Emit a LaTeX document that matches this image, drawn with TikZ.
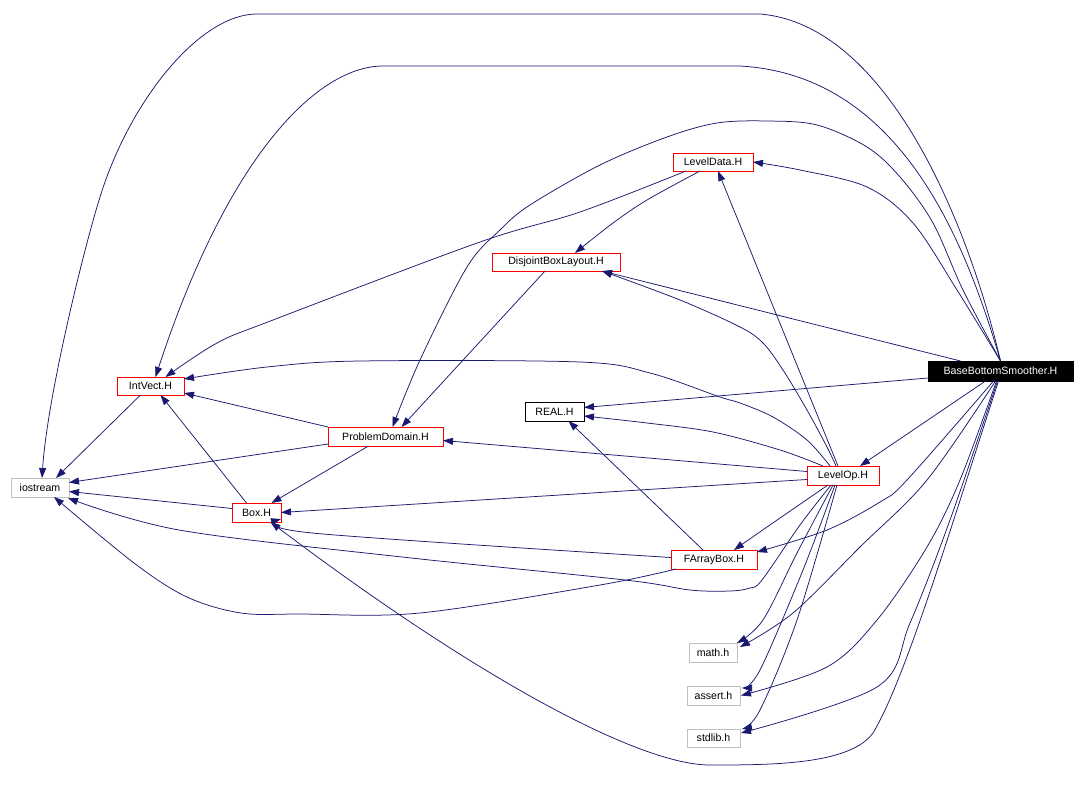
\documentclass[tikz,border=0pt]{standalone}
\usepackage{fontspec}
\setmainfont{Liberation Sans}
\usetikzlibrary{arrows.meta,calc}
\definecolor{edgec}{HTML}{191970}
\definecolor{redb}{HTML}{FF0000}
\definecolor{grayb}{HTML}{BFBFBF}
\begin{document}
\begin{tikzpicture}[x=1pt,y=-1pt,
  hdr/.style={draw, line width=0.9pt, inner sep=0pt, outer sep=0pt, minimum height=19pt,
    font=\fontsize{10.6}{12}\selectfont, text=black, fill=white},
  redhdr/.style={hdr, draw=redb},
  sysh/.style={hdr, draw=grayb},
  plainh/.style={hdr, draw=black},
  mainh/.style={hdr, draw=black, fill=black, text=white},
  edge/.style={draw=edgec, line width=0.75pt, -{Triangle[length=10pt,width=7pt]}},
  sm/.style={smooth, tension=0.55}]
\useasboundingbox (0,0) rectangle (1085,800);
\fill[white] (0,0) rectangle (1085,800);

% nodes
\node[mainh, minimum width=145pt, minimum height=20pt] (bbs) at (1000.5,371) {BaseBottomSmoother.H};
\node[redhdr, minimum width=80pt, minimum height=18pt] (ld) at (713,162) {LevelData.H};
\node[redhdr, minimum width=128pt, minimum height=18pt] (dbl) at (556,262) {DisjointBoxLayout.H};
\node[redhdr, minimum width=67pt, minimum height=18pt] (iv) at (150.5,386) {IntVect.H};
\node[plainh, minimum width=59pt] (real) at (554.5,411.5) {REAL.H};
\node[redhdr, minimum width=115pt] (pd) at (385.5,436.5) {ProblemDomain.H};
\node[redhdr, minimum width=72pt] (lop) at (843,475.5) {LevelOp.H};
\node[sysh, minimum width=58pt] (ios) at (40,487.5) {iostream};
\node[redhdr, minimum width=49pt] (box) at (256.5,512.5) {Box.H};
\node[redhdr, minimum width=86pt] (fab) at (714,559.5) {FArrayBox.H};
\node[sysh, minimum width=48pt] (math) at (713,652.5) {math.h};
\node[sysh, minimum width=53pt] (assert) at (713.5,695.5) {assert.h};
\node[sysh, minimum width=53pt, minimum height=18pt] (stdlib) at (713.5,738) {stdlib.h};

% BaseBottomSmoother.H
\draw[edge] (bbs.north) .. controls (970,230) and (890,25) .. (760,14) -- (257,14)
  .. controls (200,14) and (130,100) .. (100,197)
  .. controls (82,255) and (47,400) .. ($(ios.north)+(2,0)$);
\draw[edge] (bbs.north) .. controls (965,240) and (900,75) .. (740,66) -- (383,66)
  .. controls (320,66) and (230,150) .. ($(iv.north)+(5,0)$);
\draw[edge] plot[sm] coordinates {(bbs.north) (963,290) (933,223) (900,177) (867,147) (817,125) (767,121) (717,123) (667,137) (600,165) (530,205) (500,230) (467,267) (420,360) ($(pd.north)+(7,0)$)};
\draw[edge] plot[sm] coordinates {(bbs.north) (957,290) (913,223) (867,187) (800,170) (ld.east)};
\draw[edge] ($(bbs.north)+(-40,0)$) -- ($(dbl.south)+(46,0)$);
\draw[edge] ($(bbs.west)+(0,7)$) -- ($(real.east)+(0,-4)$);
\draw[edge] ($(bbs.south)+(-15,0)$) -- ($(lop.north)+(17,0)$);
\draw[edge] plot[sm] coordinates {($(bbs.south)+(-7,0)$) (907,480) (880,502) (827,530) ($(fab.north east)+(0,2)$)};
\draw[edge] plot[sm] coordinates {($(bbs.south)+(-5,0)$) (927,480) (860,547) (793,613) ($(math.north east)+(3,4)$)};
\draw[edge] plot[sm] coordinates {($(bbs.south)+(-4,0)$) (960,480) (927,547) (877,620) (827,667) ($(assert.east)+(1,0)$)};
\draw[edge] plot[sm] coordinates {($(bbs.south)+(-3,0)$) (950,520) (910,623) (877,687) ($(stdlib.east)+(1,-5)$)};
\draw[edge] ($(bbs.south)+(-2,0)$) .. controls (950,530) and (905,680) .. (873,733)
  .. controls (850,765) and (770,765) .. (710,765)
  .. controls (640,765) and (480,680) .. ($(box.south)+(14,0)$);

% LevelData.H
\draw[edge] plot[sm] coordinates {($(ld.south)+(-13,0)$) (647,200) (613,223) ($(dbl.north)+(19,0)$)};
\draw[edge] plot[sm] coordinates {($(ld.south west)+(13,0)$) (580,212) (480,242) (273,320) (217,343) ($(iv.north)+(15,0)$)};

% DisjointBoxLayout.H
\draw[edge] ($(dbl.south)+(-11,0)$) -- ($(pd.north)+(16,0)$);

% LevelOp.H
\draw[edge] ($(lop.north)+(-5,0)$) -- ($(ld.south)+(5,0)$);
\draw[edge] plot[sm] coordinates {($(lop.north)+(-7,0)$) (827,447) (807,410) (783,370) (763,343) (740,327) (680,300) ($(dbl.south)+(46,0)$)};
\draw[edge] plot[sm] coordinates {($(lop.north)+(-13,0)$) (807,440) (773,417) (740,403) (720,397) (650,373) (580,362) (360,361) (267,367) ($(iv.east)+(0,-7)$)};
\draw[edge] plot[sm] coordinates {($(lop.north)+(-20,0)$) (780,450) (713,432) (647,423) ($(real.east)+(0,4.5)$)};
\draw[edge] ($(lop.west)+(0,-4)$) -- ($(pd.east)+(0,4)$);
\draw[edge] ($(lop.west)+(0,4)$) -- (box.east);
\draw[edge] plot[sm] coordinates {($(lop.south)+(-15,0)$) (767,527) ($(fab.north)+(20,0)$)};
\draw[edge] plot[sm] coordinates {($(lop.south)+(-10,0)$) (797,553) (763,620) (math.north east)};
\draw[edge] plot[sm] coordinates {($(lop.south)+(-8,0)$) (803,570) (760,670) ($(assert.north east)+(2,2)$)};
\draw[edge] plot[sm] coordinates {($(lop.south)+(-6,0)$) (797,620) (760,710) ($(stdlib.north east)+(2,0)$)};
\draw[edge] plot[sm] coordinates {($(lop.south)+(-12,0)$) (800,525) (762,580) (750,588) (730,591) (690,590) (625,580) (402,557) (179,530) ($(ios.south east)+(-1,1)$)};

% FArrayBox.H
\draw[edge] ($(fab.north)+(-11,0)$) -- ($(real.south)+(14,0)$);
\draw[edge] plot[sm] coordinates {($(fab.west)+(0,-2)$) (312,533) ($(box.south east)+(0,-3)$)};
\draw[edge] plot[sm] coordinates {($(fab.south west)+(5,0)$) (600,585) (420,613) (300,614) (241,613) (187,597) (134,563) ($(ios.south)+(14,0)$)};

% ProblemDomain.H
\draw[edge] (pd.north west) -- ($(iv.east)+(0,7)$);
\draw[edge] ($(pd.south west)+(0,-2)$) -- ($(ios.east)+(0,-5)$);
\draw[edge] ($(pd.south)+(-17,0)$) -- ($(box.north)+(15,0)$);

% Box.H
\draw[edge] ($(box.north)+(-10,0)$) -- ($(iv.south)+(10,0)$);
\draw[edge] ($(box.west)+(0,-4)$) -- ($(ios.east)+(0,4)$);

% IntVect.H
\draw[edge] ($(iv.south)+(-10,0)$) -- ($(ios.north)+(16,0)$);
\end{tikzpicture}
\end{document}
